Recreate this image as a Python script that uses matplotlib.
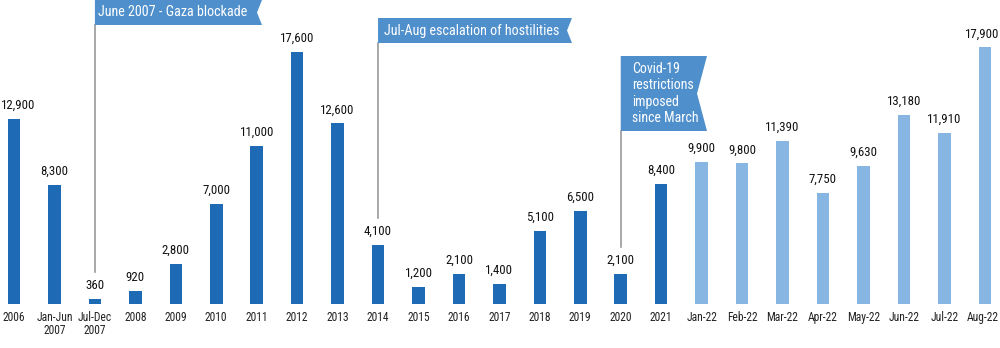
import matplotlib
matplotlib.use('Agg')
import matplotlib.pyplot as plt
from matplotlib import font_manager
from matplotlib.patches import Polygon
from matplotlib.lines import Line2D
import matplotlib.transforms as mtransforms

# ---------------- data ----------------
categories = ['2006', 'Jan-Jun\n2007', 'Jul-Dec\n2007', '2008', '2009', '2010',
              '2011', '2012', '2013', '2014', '2015', '2016', '2017', '2018',
              '2019', '2020', '2021', 'Jan-22', 'Feb-22', 'Mar-22', 'Apr-22',
              'May-22', 'Jun-22', 'Jul-22', 'Aug-22']
values = [12900, 8300, 360, 920, 2800, 7000, 11000, 17600, 12600, 4100, 1200,
          2100, 1400, 5100, 6500, 2100, 8400, 9900, 9800, 11390, 7750, 9630,
          13180, 11910, 17900]
monthly = [False] * 17 + [True] * 8

events = ['June 2007 - Gaza blockade',
          'Jul-Aug escalation of hostilities',
          'Covid-19\nrestrictions\nimposed\nsince March']
event_cats = ['Jul-Dec\n2007', '2014', '2020']

# ---------------- style ----------------
names = {f.name for f in font_manager.fontManager.ttflist}
family = 'Roboto'
for cand in ['Roboto Condensed', 'Liberation Sans Narrow', 'Roboto']:
    if cand in names:
        family = cand
        break
plt.rcParams['font.family'] = [family, 'DejaVu Sans']

DARK = '#1f6ab4'
LIGHT = '#86b6e1'
FLAG = '#4e8fcc'
GREY = '#9a9a9a'

W, H = 1000, 348
fig = plt.figure(figsize=(W / 100, H / 100), dpi=100)
ax = fig.add_axes([0, 44 / H, 1, 304 / H])

x = list(range(len(categories)))
colors = [LIGHT if m else DARK for m in monthly]
ax.bar(x, values, width=0.31, color=colors, zorder=2)

ax.set_xlim(-0.346, 24.376)
ax.set_ylim(0, 21200)
ax.set_xticks(x)
ax.set_xticklabels(categories, fontsize=8.3, linespacing=1.05, color='#222222')
ax.tick_params(axis='x', length=0, pad=5)
ax.set_yticks([])
for s in ax.spines.values():
    s.set_visible(False)

labels = []
for xi, v in zip(x, values):
    t = ax.annotate(f'{v:,}', (xi, v), xytext=(0, 7.2), textcoords='offset points',
                    ha='center', va='baseline', fontsize=9.3, color='#111111')
    labels.append(t)

fig.canvas.draw()
r = fig.canvas.get_renderer()

# keep edge labels inside the picture
for t in labels:
    bb = t.get_window_extent(r)
    dx = 0
    if bb.x0 < 1:
        dx = 1 - bb.x0
    elif bb.x1 > W - 1:
        dx = (W - 1) - bb.x1
    if dx:
        t.xyann = (dx * 72 / 100, 7.2)
for tl in ax.get_xticklabels():
    bb = tl.get_window_extent(r)
    dx = 0
    if bb.x0 < 1:
        dx = 1 - bb.x0
    elif bb.x1 > W - 1:
        dx = (W - 1) - bb.x1
    if dx:
        tl.set_transform(tl.get_transform() +
                         mtransforms.ScaledTranslation(dx / 100, 0, fig.dpi_scale_trans))

# flags: (top px, bottom px, right px, notch depth px, text pad px, fontsize)
flag_geom = [(0, 25, 262, 5, 3, 10.2), (18, 43, 572, 5, 6, 10.2),
             (56, 131, 707, 10, 11, 10.0)]

for cat, text, (top, bot, right, notch, pad, fs) in zip(event_cats, events, flag_geom):
    i = categories.index(cat)
    xd, ybar = ax.transData.transform((i, values[i]))
    yt, yb = H - top, H - bot
    ym = (yt + yb) / 2
    poly = Polygon([(xd, yt), (right, yt), (right - notch, ym), (right, yb), (xd, yb)],
                   closed=True, transform=None, facecolor=FLAG, edgecolor='none',
                   zorder=5)
    fig.patches.append(poly)
    line = Line2D([xd, xd], [yb, ybar + 27], transform=None, color=GREY, lw=1.2,
                  zorder=4)
    fig.lines.append(line)
    fig.text((xd + pad) / W, ym / H, text, ha='left', va='center', color='white',
             fontsize=fs, linespacing=1.2, zorder=6)

fig.savefig('out.png', dpi=100)
